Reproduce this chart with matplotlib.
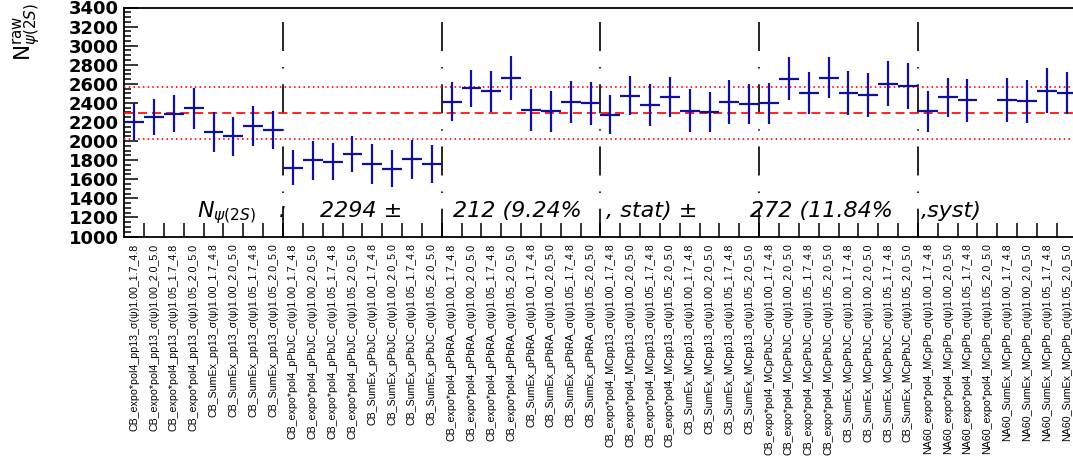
"""Rendimento N_raw psi(2S) per le diverse combinazioni di fit (stile ROOT)."""
import matplotlib
matplotlib.use("Agg")
import matplotlib.pyplot as plt
import numpy as np

plt.rcParams["lines.scale_dashes"] = False
plt.rcParams["mathtext.fontset"] = "dejavusans"

W, H = 1073, 459

# Categorie: 6 gruppi x 8 fit
signal = ["CB", "CB", "CB", "CB", "CB", "NA60"]
datasets = ["pp13", "pPbJC", "pPbRA", "MCpp13", "MCpPbJC", "MCpPb"]
backgrounds = ["expo*pol4", "SumEx"]
params = ["1.00_1.7_4.8", "1.00_2.0_5.0", "1.05_1.7_4.8", "1.05_2.0_5.0"]

labels = [f"{sig}_{bkg}_{ds}_\u03c3(\u03c8){par}"
          for sig, ds in zip(signal, datasets)
          for bkg in backgrounds
          for par in params]

n_raw = [2201, 2254, 2289, 2345, 2092, 2050, 2159, 2117,
         1723, 1801, 1786, 1864, 1759, 1709, 1807, 1759,
         2412, 2552, 2521, 2661, 2324, 2313, 2408, 2394,
         2278, 2475, 2376, 2465, 2320, 2307, 2408, 2391,
         2397, 2654, 2503, 2665, 2503, 2486, 2602, 2576,
         2313, 2461, 2426, np.nan, 2433, 2415, 2528, 2503]
n_err = [193, 192, 197, 216, 209, 204, 209, 202,
         188, 205, 195, 193, 209, 193, 205, 202,
         202, 198, 211, 227, 218, 216, 218, 221,
         207, 204, 219, 211, 221, 211, 232, 209,
         214, 228, 221, 212, 230, 232, 239, 242,
         214, 205, 228, np.nan, 230, 228, 237, 219]

mean_val = 2294
stat_err = 212
syst_err = 272
stat_pct = 9.24
syst_pct = 11.84

n_bins = len(labels)
x = np.arange(n_bins) + 0.5

fig = plt.figure(figsize=(W / 100, H / 100), dpi=100)
# l'asse sborda a destra come nell'originale (tela tagliata)
ax = fig.add_axes([124.3 / W, 1 - 236.5 / H, 952.3 / W, 229 / H])

ax.errorbar(x, n_raw, yerr=n_err, xerr=0.5, fmt="none",
            ecolor="#10109a", elinewidth=1.6, capsize=0, zorder=4)

# media e banda sistematica
ax.axhline(mean_val, color="#ff1010", linewidth=1.3, dashes=(6.5, 3.6), zorder=3)
for yv in (mean_val - syst_err, mean_val + syst_err):
    ax.axhline(yv, color="#ff1010", linewidth=1.3, dashes=(1.1, 2.3), zorder=3)

# separatori dei gruppi
for g in range(1, len(datasets)):
    xs = g * 8
    ax.plot([xs, xs], [3243, 1000], color="black", linewidth=1.2,
            dashes=(20.9, 11.5, 1.1, 11.3), zorder=2)

ax.set_xlim(0, n_bins)
ax.set_ylim(1000, 3400)

ax.set_yticks(np.arange(1000, 3401, 200))
ax.set_yticks(np.arange(1000, 3401, 50), minor=True)
ax.set_xticks(x)
ax.set_xticks(np.arange(1, n_bins), minor=True)
ax.set_xticklabels(labels, rotation=90, ha="center", va="top",
                   family=["Liberation Sans", "DejaVu Sans"], fontsize=7.7)
for lab in ax.get_yticklabels():
    lab.set_family("DejaVu Sans")
    lab.set_fontweight("bold")
    lab.set_fontsize(13)

ax.tick_params(axis="y", which="major", direction="in", length=10, width=1.1, pad=4)
ax.tick_params(axis="y", which="minor", direction="in", length=5, width=1.1)
ax.tick_params(axis="x", which="major", length=0, pad=5)
ax.tick_params(axis="x", which="minor", direction="in", length=10, width=1.1)
for sp in ax.spines.values():
    sp.set_linewidth(1.3)


def ftext(px, py, s, **kw):
    fig.text(px / W, 1 - py / H, s, **kw)


# titolo asse y
ftext(27, 3, r"N$^{\rm raw}_{\psi(2S)}$", rotation=90, ha="center", va="top",
      fontsize=15.5, family="DejaVu Sans")

# riepilogo dentro il grafico
big = dict(fontsize=16, style="italic", family="DejaVu Sans", va="baseline", zorder=5)
ftext(197, 217, r"$N_{\psi(2S)}$", fontsize=16, va="baseline")
ftext(279, 217, ":", **big)
ftext(320, 217, f"{mean_val} \u00b1", **big)
ftext(453, 217, f"{stat_err} ({stat_pct:.2f}%", **big)
ftext(606, 217, ", stat) \u00b1", **big)
ftext(750, 217, f"{syst_err} ({syst_pct:.2f}%", **big)
ftext(921, 217, ",syst)", **big)

fig.savefig("out.png", dpi=100)
